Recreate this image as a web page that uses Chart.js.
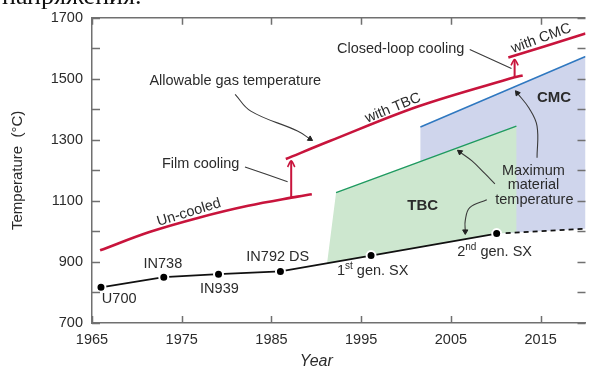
<!DOCTYPE html>
<html>
<head>
<meta charset="utf-8">
<script src="https://cdn.jsdelivr.net/npm/chart.js@4.4.1/dist/chart.umd.min.js"></script>
<style>
  html, body { margin: 0; padding: 0; background: #fff; }
  #wrap { width: 592px; height: 370px; position: relative; }
</style>
</head>
<body>
<div id="wrap"><canvas id="turbine"></canvas></div>
<script>
// Axis ticks
var yearTicks = [1965, 1975, 1985, 1995, 2005, 2015];
var tempTicks = [700, 900, 1100, 1300, 1500, 1700];

// Maximum material temperature of the superalloys
var alloyNames = ['U700', 'IN738', 'IN939', 'IN792 DS', '1st gen. SX', '2nd gen. SX'];
var alloyYears = [1966, 1973, 1979.1, 1986, 1996.1, 2010.1];
var alloyTemps = [817, 850, 860, 869, 921, 993];
var trendYears = [2010.1, 2020];
var trendTemps = [993, 1009];

// Allowable gas temperature
var uncooledYears = [1965.9, 1971.4, 1976.9, 1982.4, 1987.9, 1989.5];
var uncooledTemps = [938, 998, 1045, 1084, 1114, 1122];
var tbcYears = [1986.6, 1991.5, 2001.4, 2012.1, 2013];
var tbcTemps = [1237, 1296, 1410, 1505, 1511];
var cmcYears = [2011.4, 2015.4, 2020];
var cmcTemps = [1570, 1606, 1648];

// Cooling steps
var filmYears = [1987.2, 1987.2];
var filmTemps = [1111, 1231];
var filmHeadYears = [1986.8, 1987.2, 1987.6];
var filmHeadTemps = [1211, 1231, 1211];
var closedYears = [2012.1, 2012.1];
var closedTemps = [1505, 1563];
var closedHeadYears = [2011.7, 2012.1, 2012.5];
var closedHeadTemps = [1544, 1563, 1544];

// Coating limits and regions
var tbcLimitYears = [1992.2, 2012.3];
var tbcLimitTemps = [1127, 1345];
var cmcLimitYears = [2001.6, 2020];
var cmcLimitTemps = [1342, 1573];
var tbcAreaYears = [1991.2, 1992.2, 2012.3, 2012.3, 2010.1, 1996.1, 1991.2];
var tbcAreaTemps = [896, 1127, 1345, 997, 993, 921, 896];
var cmcAreaYears = [2001.6, 2020, 2020, 2010.1, 2001.6, 2001.6];
var cmcAreaTemps = [1342, 1573, 1009, 993, 950, 1342];

// Label pointers
var allowPtrYears = [1980.95, 1982.7, 1987.9, 1989.3];
var allowPtrTemps = [1449, 1394, 1329, 1303];
var filmPtrYears = [1982.05, 1986.8];
var filmPtrTemps = [1211, 1163];
var closedPtrYears = [2007.1, 2011.75];
var closedPtrTemps = [1596, 1534];
var maxPtr1Years = [2014.6, 2014.6, 2013.7, 2012.4];
var maxPtr1Temps = [1241, 1345, 1404, 1453];
var maxPtr2Years = [2009.9, 2008.8, 2007.35, 2006.0];
var maxPtr2Temps = [1156, 1189, 1231, 1260];
var maxPtr3Years = [2009.0, 2007.1, 2006.6, 2006.6];
var maxPtr3Temps = [1104, 1078, 1036, 1000];

var fontFamily = "'Liberation Sans', Arial, sans-serif";
var textColor = '#2b2b2b';
var axisColor = '#707070';
var red = '#c8143c';

Chart.defaults.font.family = fontFamily;

function points(xs, ys) {
  return xs.map(function(x, i) { return { x: x, y: ys[i] }; });
}

function curve(xs, ys, color, width, order) {
  return {
    data: points(xs, ys), showLine: true, borderColor: color, borderWidth: width,
    pointRadius: 0, fill: false, tension: 0.35, order: order
  };
}

function area(xs, ys, color) {
  return {
    data: points(xs, ys), showLine: true, borderColor: 'transparent', borderWidth: 0,
    backgroundColor: color, pointRadius: 0, fill: 'shape', tension: 0, order: 10
  };
}

// Pointer line with a filled arrowhead on its last point
function pointer(xs, ys) {
  var last = xs.length - 1;
  return {
    data: points(xs, ys), showLine: true, borderColor: '#3a3a3a', borderWidth: 1.1,
    tension: 0.4, fill: false, order: 2,
    pointStyle: 'triangle', pointBackgroundColor: '#222', pointBorderColor: '#222', pointBorderWidth: 1,
    pointRadius: function(c) { return c.dataIndex === last ? 3 : 0; },
    pointRotation: function(c) {
      var sx = c.chart.scales.x, sy = c.chart.scales.y;
      var dx = sx.getPixelForValue(xs[last]) - sx.getPixelForValue(xs[last - 1]);
      var dy = sy.getPixelForValue(ys[last]) - sy.getPixelForValue(ys[last - 1]);
      return Math.atan2(dx, -dy) * 180 / Math.PI;
    }
  };
}

// Texts placed on the chart (anchored on data values)
var notes = [
  { parts: ['Allowable gas temperature'], x: 1971.4, y: 1492, align: 'left' },
  { parts: ['Closed-loop cooling'], x: 1992.3, y: 1599, align: 'left' },
  { parts: ['Film cooling'], x: 1972.8, y: 1221, align: 'left' },
  { parts: ['with CMC'], x: 2015.05, y: 1632, rot: -20 },
  { parts: ['with TBC'], x: 1998.55, y: 1404, rot: -22 },
  { parts: ['Un-cooled'], x: 1975.8, y: 1062, rot: -17 },
  { parts: ['CMC'], x: 2016.5, y: 1436, bold: true },
  { parts: ['TBC'], x: 2001.85, y: 1084, bold: true },
  { parts: ['Maximum'], x: 2014.2, y: 1198 },
  { parts: ['material'], x: 2014.2, y: 1153 },
  { parts: ['temperature'], x: 2014.3, y: 1104 },
  { parts: [alloyNames[0]], x: 1966.1, y: 778, align: 'left' },
  { parts: [alloyNames[1]], x: 1972.9, y: 892 },
  { parts: [alloyNames[2]], x: 1979.2, y: 811 },
  { parts: [alloyNames[3]], x: 1982.2, y: 915, align: 'left' },
  { parts: ['1', '^st', ' gen. SX'], x: 1992.3, y: 869, align: 'left' },
  { parts: ['2', '^nd', ' gen. SX'], x: 2005.7, y: 931, align: 'left' }
];

function setFont(ctx, size, bold, italic) {
  ctx.font = (italic ? 'italic ' : '') + (bold ? 'bold ' : '') + size + 'px ' + fontFamily;
}

var notePlugin = {
  id: 'notes',
  afterDatasetsDraw: function(chart) {
    var ctx = chart.ctx;
    var sx = chart.scales.x, sy = chart.scales.y;
    var area = chart.chartArea;

    // Frame top line and inward tick marks
    ctx.save();
    ctx.strokeStyle = axisColor;
    ctx.lineWidth = 1.5;
    ctx.beginPath();
    ctx.moveTo(area.left, area.top);
    ctx.lineTo(area.right, area.top);
    for (var v = sy.min; v <= sy.max; v += 100) {
      var py = Math.round(sy.getPixelForValue(v)) + 0.5;
      ctx.moveTo(area.left, py); ctx.lineTo(area.left + 8, py);
      ctx.moveTo(area.right, py); ctx.lineTo(area.right - 8, py);
    }
    yearTicks.forEach(function(t) {
      var px = Math.round(sx.getPixelForValue(t)) + 0.5;
      ctx.moveTo(px, area.bottom); ctx.lineTo(px, area.bottom - 7);
      ctx.moveTo(px, area.top); ctx.lineTo(px, area.top + 7);
    });
    ctx.stroke();
    ctx.restore();

    // Annotation texts
    ctx.save();
    ctx.fillStyle = textColor;
    ctx.textBaseline = 'middle';
    notes.forEach(function(n) {
      ctx.save();
      ctx.translate(sx.getPixelForValue(n.x), sy.getPixelForValue(n.y));
      if (n.rot) ctx.rotate(n.rot * Math.PI / 180);
      var size = n.bold ? 15 : 14.5;
      var widths = n.parts.map(function(p) {
        var sup = p.charAt(0) === '^';
        setFont(ctx, sup ? 10 : size, n.bold);
        return ctx.measureText(sup ? p.slice(1) : p).width;
      });
      var total = widths.reduce(function(a, b) { return a + b; }, 0);
      var x0 = n.align === 'left' ? 0 : -total / 2;
      ctx.textAlign = 'left';
      n.parts.forEach(function(p, i) {
        var sup = p.charAt(0) === '^';
        setFont(ctx, sup ? 10 : size, n.bold);
        ctx.fillText(sup ? p.slice(1) : p, x0, sup ? -5 : 0);
        x0 += widths[i];
      });
      ctx.restore();
    });

    // Axis title "Year"
    setFont(ctx, 16, false, true);
    ctx.textAlign = 'center';
    ctx.fillText('Year', sx.getPixelForValue(1990), area.bottom + 39);

    // Cut-off line of text above the figure
    ctx.font = '26px "Liberation Serif", serif';
    ctx.fillStyle = '#111';
    ctx.textAlign = 'left';
    ctx.textBaseline = 'alphabetic';
    ctx.fillText('напряжения.', 2, 4);
    ctx.restore();
  }
};

function plainLabel(value) {
  return String(value);
}

var turbineChart = new Chart(document.getElementById('turbine'), {
  type: 'scatter',
  data: {
    datasets: [
      area(tbcAreaYears, tbcAreaTemps, '#cde7cf'),
      area(cmcAreaYears, cmcAreaTemps, '#cfd5ec'),
      curve(tbcLimitYears, tbcLimitTemps, '#1f9a60', 1.5, 5),
      curve(cmcLimitYears, cmcLimitTemps, '#2f78c0', 1.5, 5),
      curve(uncooledYears, uncooledTemps, red, 2.6, 3),
      curve(tbcYears, tbcTemps, red, 2.6, 3),
      curve(cmcYears, cmcTemps, red, 2.6, 3),
      curve(filmYears, filmTemps, red, 2, 3),
      curve(filmHeadYears, filmHeadTemps, red, 1.6, 3),
      curve(closedYears, closedTemps, red, 2, 3),
      curve(closedHeadYears, closedHeadTemps, red, 1.6, 3),
      pointer(allowPtrYears, allowPtrTemps),
      pointer(maxPtr1Years, maxPtr1Temps),
      pointer(maxPtr2Years, maxPtr2Temps),
      pointer(maxPtr3Years, maxPtr3Temps),
      curve(filmPtrYears, filmPtrTemps, '#3a3a3a', 1.1, 2),
      curve(closedPtrYears, closedPtrTemps, '#3a3a3a', 1.1, 2),
      {
        data: points(trendYears, trendTemps), showLine: true, borderColor: '#111', borderWidth: 1.8,
        borderDash: [5, 4], pointRadius: 0, fill: false, order: 1
      },
      {
        data: points(alloyYears, alloyTemps), showLine: true, borderColor: '#111', borderWidth: 1.8,
        pointRadius: 4.5, pointBackgroundColor: '#000', pointBorderColor: '#fff', pointBorderWidth: 2,
        fill: false, order: 0
      }
    ]
  },
  options: {
    responsive: true,
    maintainAspectRatio: false,
    animation: false,
    layout: { padding: { top: 16, right: 0, left: 0, bottom: 0 } },
    plugins: { legend: { display: false }, tooltip: { enabled: false } },
    scales: {
      x: {
        type: 'linear', min: 1965, max: 2020,
        afterBuildTicks: function(scale) { scale.ticks = yearTicks.map(function(v) { return { value: v }; }); },
        afterFit: function(scale) { scale.height = 47; },
        grid: { display: true, drawOnChartArea: false, drawTicks: false },
        border: { display: true, color: axisColor, width: 1.5 },
        ticks: { color: textColor, font: { size: 14.5 }, padding: 8, maxRotation: 0, autoSkip: false, callback: plainLabel }
      },
      y: {
        type: 'linear', min: 700, max: 1700,
        afterBuildTicks: function(scale) { scale.ticks = tempTicks.map(function(v) { return { value: v }; }); },
        afterFit: function(scale) { scale.width = 92; },
        grid: { display: true, drawOnChartArea: false, drawTicks: false },
        border: { display: true, color: axisColor, width: 1.5 },
        ticks: { color: textColor, font: { size: 14.5 }, padding: 9, callback: plainLabel },
        title: { display: true, text: 'Temperature  (°C)', color: textColor, font: { size: 15 }, padding: { top: 9, bottom: 0 } }
      }
    }
  },
  plugins: [notePlugin]
});
</script>
</body>
</html>
